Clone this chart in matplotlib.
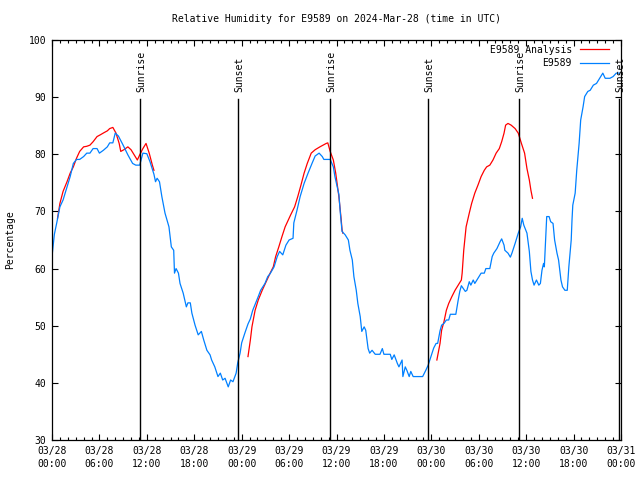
import matplotlib
matplotlib.use("Agg")
import matplotlib.pyplot as plt

# hours since 2024-03-28 00:00 UTC
obs_hours = [0.0, 0.3, 0.6, 1.0, 1.4, 1.9, 2.3, 2.7, 3.1, 3.5, 4.0, 4.4, 4.8, 5.2, 5.7, 6.0, 6.5, 7.0, 7.3, 7.7,
             8.0, 8.4, 9.0, 9.6, 10.2, 10.6, 11.1, 11.5, 12.0, 12.4, 12.9, 13.1, 13.3, 13.6, 13.9, 14.3, 14.8, 15.1,
             15.4, 15.5, 15.7, 16.0, 16.2, 16.6, 17.0, 17.2, 17.5, 17.7, 18.1, 18.5, 18.9, 19.2, 19.6, 20.0, 20.2,
             20.6, 21.0, 21.3, 21.6, 21.9, 22.3, 22.6, 22.9, 23.3, 23.5, 23.8, 24.0, 24.4, 24.8, 25.1, 25.4, 26.1,
             26.4, 26.95, 27.3, 27.6, 28.1, 28.5, 28.8, 29.2, 29.6, 30.0, 30.5, 30.6, 31.0, 31.4, 31.9, 32.4, 32.9,
             33.3, 33.8, 34.2, 34.4, 35.2, 35.6, 35.8, 36.3, 36.5, 36.7, 37.1, 37.5, 37.7, 38.0, 38.2, 38.5, 38.7,
             39.0, 39.2, 39.5, 39.7, 40.0, 40.2, 40.5, 40.9, 41.5, 41.8, 42.0, 42.8, 43.0, 43.3, 43.7, 43.9, 44.3,
             44.4, 44.7, 44.9, 45.2, 45.4, 45.7, 46.9, 47.3, 47.6, 48.0, 48.3, 48.6, 48.8, 49.1, 49.3, 49.6, 49.9,
             50.2, 50.4, 51.1, 51.4, 51.6, 51.8, 52.3, 52.5, 52.8, 53.0, 53.3, 53.5, 53.9, 54.3, 54.7, 54.9, 55.4,
             55.7, 55.9, 56.3, 56.7, 56.9, 57.2, 57.3, 57.7, 58.0, 58.2, 58.6, 59.0, 59.3, 59.5, 59.7, 60.1, 60.4,
             60.6, 60.8, 61.0, 61.3, 61.6, 61.8, 62.0, 62.2, 62.3, 62.4, 62.6, 62.9, 63.1, 63.4, 63.6, 63.9, 64.1,
             64.4, 64.6, 64.9, 65.2, 65.4, 65.7, 65.8, 65.9, 66.2, 66.4, 66.7, 66.9, 67.2, 67.4, 67.8, 68.1, 68.5,
             68.9, 69.3, 69.7, 70.0, 70.6, 71.0, 71.4, 71.8]
obs_rh = [62.1, 66.0, 68.0, 70.8, 72.0, 74.3, 76.1, 78.4, 79.1, 79.1, 79.6, 80.2, 80.2, 81.0, 81.0, 80.2, 80.7, 81.3,
          82.0, 82.0, 83.7, 83.2, 81.6, 79.9, 78.4, 78.1, 78.1, 80.2, 80.1, 78.7, 76.5, 75.2, 75.8, 75.2, 72.6, 69.7,
          67.3, 63.8, 63.2, 59.2, 60.0, 59.2, 57.4, 55.7, 53.3, 54.0, 54.0, 52.2, 50.1, 48.4, 49.0, 47.5, 45.7, 44.9,
          44.0, 42.8, 41.1, 41.7, 40.5, 40.8, 39.3, 40.5, 40.2, 41.7, 43.5, 45.2, 47.0, 48.7, 50.3, 51.2, 52.7, 55.1,
          56.2, 57.4, 58.6, 59.1, 60.3, 62.1, 63.0, 62.4, 64.1, 65.0, 65.3, 68.0, 70.2, 72.6, 74.9, 76.7, 78.4, 79.7,
          80.2, 79.6, 79.1, 79.1, 77.8, 76.1, 73.0, 69.5, 66.5, 65.9, 65.0, 63.2, 61.5, 58.6, 56.2, 53.9, 51.6, 49.0,
          49.8, 49.2, 46.0, 45.2, 45.7, 45.0, 45.0, 46.0, 45.0, 45.0, 44.1, 44.9, 43.4, 42.8, 44.0, 41.1, 42.8, 42.2,
          41.1, 42.0, 41.1, 41.1, 42.2, 43.1, 44.8, 46.1, 46.9, 46.9, 49.1, 50.1, 50.4, 51.0, 51.0, 52.0, 52.0, 54.5,
          56.0, 57.0, 56.0, 56.2, 57.7, 57.1, 58.0, 57.4, 58.3, 59.2, 59.2, 60.0, 60.0, 62.1, 62.7, 63.5, 64.7, 65.2,
          64.1, 63.2, 62.7, 62.0, 62.7, 64.4, 66.2, 67.3, 68.8, 67.6, 66.2, 63.0, 59.5, 58.0, 57.1, 58.0, 57.1, 57.4,
          59.7, 60.9, 60.3, 63.2, 69.1, 69.1, 68.2, 67.9, 65.0, 62.7, 61.5, 58.0, 56.8, 56.2, 56.2, 60.3, 65.0, 68.5,
          71.1, 73.2, 77.2, 81.9, 86.0, 88.3, 90.1, 91.0, 91.2, 92.1, 92.4, 93.3, 94.2, 93.3, 93.3, 93.6, 94.2, 94.2]

# analysis, three separate runs
ana1_hours = [0.7, 1.0, 1.4, 1.9, 2.3, 2.7, 3.1, 3.5, 4.0, 4.4, 4.8, 5.2, 5.7, 6.1, 6.6, 7.0, 7.3, 7.7, 8.1, 8.5,
              8.7, 9.1, 9.6, 10.0, 10.4, 10.8, 11.1, 11.5, 11.9, 12.3, 12.7, 12.9]
ana1_rh = [68.8, 71.4, 73.5, 75.2, 76.7, 77.8, 79.3, 80.5, 81.3, 81.4, 81.6, 82.2, 83.1, 83.4, 83.8, 84.1, 84.5, 84.7,
           83.7, 81.9, 80.5, 80.8, 81.3, 80.8, 79.9, 79.0, 79.9, 81.0, 81.9, 80.2, 78.1, 77.2]
ana2_hours = [24.8, 25.1, 25.3, 25.7, 26.1, 26.6, 27.1, 27.6, 28.0, 28.3, 28.7, 29.1, 29.5, 29.9, 30.2, 30.7, 31.1,
              31.5, 31.9, 32.3, 32.8, 33.3, 33.9, 34.7, 34.9, 35.2, 35.6, 35.9, 36.3, 36.6, 36.7, 36.8]
ana2_rh = [44.6, 47.5, 49.8, 52.7, 54.5, 56.2, 57.7, 59.2, 60.3, 62.1, 63.8, 65.6, 67.3, 68.5, 69.4, 70.8, 72.6, 74.6,
           76.7, 78.4, 80.2, 80.8, 81.3, 81.9, 82.0, 80.5, 79.0, 76.7, 72.6, 68.5, 66.8, 66.2]
ana3_hours = [48.7, 49.1, 49.3, 49.6, 49.9, 50.2, 50.6, 51.0, 51.4, 51.8, 51.9, 52.1, 52.4, 52.8, 53.1, 53.5, 53.9,
              54.3, 54.7, 55.0, 55.4, 55.8, 56.2, 56.6, 56.9, 57.2, 57.4, 57.7, 58.1, 58.6, 59.0, 59.4, 59.8, 60.1,
              60.4, 60.6, 60.8]
ana3_rh = [44.0, 46.9, 49.2, 50.7, 52.7, 53.9, 55.1, 56.2, 57.1, 58.0, 59.2, 63.2, 67.3, 69.7, 71.4, 73.2, 74.6, 76.1,
           77.2, 77.8, 78.1, 79.0, 80.2, 81.0, 82.2, 83.7, 85.1, 85.4, 85.1, 84.5, 83.7, 81.9, 80.2, 77.5, 75.5, 73.7,
           72.3]

sun_hours = [11.14, 23.54, 35.18, 47.58, 59.09, 71.75]
sun_labels = ["Sunrise", "Sunset", "Sunrise", "Sunset", "Sunrise", "Sunset"]

tick_hours = list(range(0, 73, 6))
tick_labels = ["03/28\n00:00", "03/28\n06:00", "03/28\n12:00", "03/28\n18:00",
               "03/29\n00:00", "03/29\n06:00", "03/29\n12:00", "03/29\n18:00",
               "03/30\n00:00", "03/30\n06:00", "03/30\n12:00", "03/30\n18:00",
               "03/31\n00:00"]

plt.rcParams['font.family'] = 'DejaVu Sans Mono'
plt.rcParams['font.size'] = 7

fig = plt.figure(figsize=(6.4, 4.8), dpi=100)
ax = fig.add_axes([52 / 640, 40 / 480, 569 / 640, 400 / 480])

red = '#ff0000'
blue = '#0080ff'
ax.plot(ana1_hours, ana1_rh, color=red, lw=0.9, label='E9589 Analysis')
ax.plot(ana2_hours, ana2_rh, color=red, lw=0.9)
ax.plot(ana3_hours, ana3_rh, color=red, lw=0.9)
ax.plot(obs_hours, obs_rh, color=blue, lw=0.9, label='E9589')

for h, lab in zip(sun_hours, sun_labels):
    ax.plot([h, h], [30, 89.6], color='black', lw=1)
    ax.text(h + 0.15, 90.9, lab, rotation=90, ha='center', va='bottom')

ax.set_xlim(0, 72)
ax.set_ylim(30, 100)
ax.set_xticks(tick_hours)
ax.set_xticklabels(tick_labels, linespacing=1.45)
ax.set_xticks(range(0, 73), minor=True)
ax.set_yticks(range(30, 101, 10))
ax.tick_params(which='both', direction='in', top=True, right=True, width=0.8)
ax.tick_params(which='major', length=4.5, pad=4)
ax.tick_params(which='minor', length=2.5)
for s in ax.spines.values():
    s.set_linewidth(0.9)

ax.set_title('Relative Humidity for E9589 on 2024-Mar-28 (time in UTC)', fontsize=7, pad=13)
ax.set_ylabel('Percentage', labelpad=10)

ax.legend(loc='upper right', bbox_to_anchor=(0.987, 1.0), frameon=False, markerfirst=False,
          handlelength=3.0, handletextpad=0.8, labelspacing=0.35, borderaxespad=0.1, fontsize=7)

fig.savefig('out.png', dpi=100)
